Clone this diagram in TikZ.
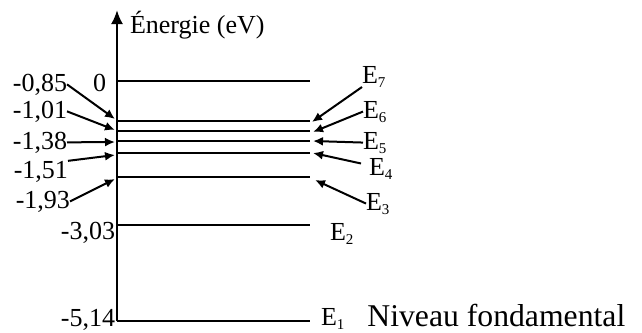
\documentclass[tikz,border=0pt]{standalone}
\usepackage{fontspec}
\setmainfont{Liberation Serif}
\usetikzlibrary{arrows.meta}
\newcommand{\indice}[1]{\raisebox{-2pt}{\fontsize{7.5}{8}\selectfont #1}}
\tikzset{
  axe/.style={line width=1.15pt,-{Latex[length=7pt,width=6pt]}},
  niveau/.style={line width=0.7pt},
  fleche/.style={line width=1pt,-{Latex[length=5pt,width=4.5pt]}},
  lbl/.style={inner sep=0pt,outer sep=0pt,font=\fontsize{13}{15}\selectfont},
}
\begin{document}
\begin{tikzpicture}[x=0.5pt,y=-0.5pt]
      \useasboundingbox (0,0) rectangle (642,332);
      % axe des energies
      \draw[axe] (117,321.4) -- (117,10);
      \node[lbl,anchor=base west] (titre) at (130,33) {Énergie (eV)};

      % niveaux
      \foreach \y in {81,121,131,141,153,177,225}
        \draw[niveau] (118,\y) -- (310,\y);
      \draw[niveau] (116.5,321) -- (310,321);

      % valeurs a gauche
      \node[lbl,anchor=base east] (v0)   at (106,91)  {0};
      \node[lbl,anchor=base east] (v085) at (67,91)   {-0,85};
      \node[lbl,anchor=base east] (v101) at (67,118)  {-1,01};
      \node[lbl,anchor=base east] (v138) at (67,149)  {-1,38};
      \node[lbl,anchor=base east] (v151) at (68,178)  {-1,51};
      \node[lbl,anchor=base east] (v193) at (70,208)  {-1,93};
      \node[lbl,anchor=base east] (v303) at (115,239) {-3,03};
      \node[lbl,anchor=base east] (v514) at (115,326) {-5,14};

      \coordinate (g7) at (115,119);
      \coordinate (g6) at (115,130);
      \coordinate (g5) at (115,142);
      \coordinate (g4) at (115,155);
      \coordinate (g3) at (115,179);
      \draw[fleche] (v085.east) -- (g7);
      \draw[fleche] (v101.east) -- (g6);
      \draw[fleche] (v138.east) -- (g5);
      \draw[fleche] (v151.north east) -- (g4);
      \draw[fleche] (v193.east) -- (g3);

      % noms des niveaux
      \node[lbl,anchor=base west] (e7) at (362,83)  {E\indice{7}};
      \node[lbl,anchor=base west] (e6) at (363,118) {E\indice{6}};
      \node[lbl,anchor=base west] (e5) at (363,149) {E\indice{5}};
      \node[lbl,anchor=base west] (e4) at (369,175) {E\indice{4}};
      \node[lbl,anchor=base west] (e3) at (366,210) {E\indice{3}};
      \node[lbl,anchor=base west] (e2) at (330,240) {E\indice{2}};
      \node[lbl,anchor=base west] (e1) at (321,325) {E\indice{1}};
      \node[anchor=base west,inner sep=0pt,font=\fontsize{15.85}{18}\selectfont] (fond) at (367,326) {Niveau fondamental};

      \coordinate (d7) at (312,122);
      \coordinate (d6) at (313,132);
      \coordinate (d5) at (313,141);
      \coordinate (d4) at (313,153);
      \coordinate (d3) at (315,180);
      \draw[fleche] (e7.south west) -- (d7);
      \draw[fleche] (e6.west) -- (d6);
      \draw[fleche] (e5.west) -- (d5);
      \draw[fleche] ([shift={(-8,-5)}]e4.west) -- (d4);
      \draw[fleche] (e3.west) -- (d3);
\end{tikzpicture}
\end{document}
